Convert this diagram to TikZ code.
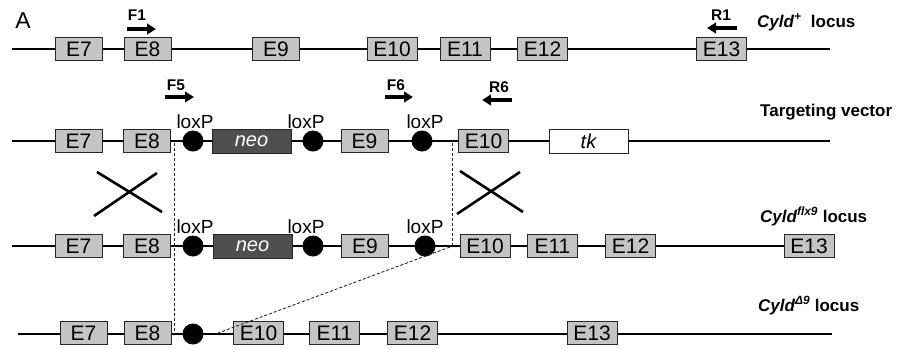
\documentclass[tikz,border=0pt]{standalone}
\usepackage{fontspec}
\setmainfont{Liberation Sans}
\usetikzlibrary{arrows.meta}
\definecolor{exonfill}{HTML}{C4C4C4}
\definecolor{neofill}{HTML}{4F4F4F}
\tikzset{
  backbone/.style={line width=2pt, black},
  exon/.style={draw=black!85, line width=0.8pt, fill=exonfill, minimum width=47pt, minimum height=23pt, inner sep=0pt, font=\fontsize{21}{21}\selectfont},
  wexon/.style={exon, minimum width=50pt},
  neobox/.style={draw=black!85, line width=0.8pt, fill=neofill, minimum width=79pt, minimum height=24pt, inner sep=0pt, text=white, font=\fontsize{20}{20}\selectfont\itshape},
  tkbox/.style={draw=black!85, line width=0.8pt, fill=white, minimum width=79pt, minimum height=24pt, inner sep=0pt, font=\fontsize{20}{20}\selectfont\itshape},
  lox/.style={circle, fill=black, minimum size=21pt, inner sep=0pt},
  loxlabel/.style={anchor=base, inner sep=0pt, font=\fontsize{19}{19}\selectfont},
  primer/.style={anchor=base, inner sep=0pt, font=\fontsize{15.5}{15.5}\selectfont\bfseries},
  parrow/.style={line width=3.2pt, -{Triangle[length=9pt,width=10.5pt]}},
  rowlabel/.style={anchor=base west, inner sep=0pt, font=\fontsize{17}{17}\selectfont\bfseries},
  cross/.style={line width=2.6pt, black},
  guide/.style={black!85, line width=0.9pt, dash pattern=on 3pt off 2pt},
}
\begin{document}
\begin{tikzpicture}[x=1pt,y=-1pt]
\useasboundingbox (0,0) rectangle (900,349);

\node[inner sep=0pt, anchor=base, font=\fontsize{23}{23}\selectfont] (lblA) at (23,28) {A};

% ---------- Row 1: Cyld+ locus ----------
\coordinate (r1s) at (12,49);
\coordinate (r1e) at (830,49);
\draw[backbone] (r1s) -- (r1e);
\node[exon] (a7) at (79,49) {E7};
\node[exon] (a8) at (147.5,49) {E8};
\node[exon] (a9) at (276,49) {E9};
\node[wexon] (a10) at (392,49) {E10};
\node[wexon] (a11) at (465,49) {E11};
\node[wexon] (a12) at (542.5,49) {E12};
\node[wexon] (a13) at (721.5,49) {E13};
\node[rowlabel] (lab1) at (757,27) {\itshape Cyld\textsuperscript{+}\upshape\ \ locus};

\node[primer] (pF1) at (137,20) {F1};
\coordinate (f1s) at (127,29); \coordinate (f1e) at (156,29);
\draw[parrow] (f1s) -- (f1e);
\node[primer] (pR1) at (721,20) {R1};
\coordinate (r1as) at (737,28); \coordinate (r1ae) at (707,28);
\draw[parrow] (r1as) -- (r1ae);

% ---------- Row 2: Targeting vector ----------
\coordinate (r2s) at (12,141);
\coordinate (r2e) at (830,141);
\draw[backbone] (r2s) -- (r2e);
\node[exon] (b7) at (78.5,141) {E7};
\node[exon] (b8) at (147,141) {E8};
\node[lox] (bl1) at (193,141) {};
\node[neobox] (bneo) at (251.5,141) {neo};
\node[lox] (bl2) at (313,141) {};
\node[exon] (b9) at (364.5,141) {E9};
\node[lox] (bl3) at (422,141) {};
\node[wexon] (b10) at (483.5,141) {E10};
\node[tkbox] (btk) at (588.5,141) {tk};
\node[loxlabel] (bll1) at (195,128) {loxP};
\node[loxlabel] (bll2) at (306,128) {loxP};
\node[loxlabel] (bll3) at (425,128) {loxP};
\node[rowlabel] (lab2) at (760,116) {Targeting vector};

\node[primer] (pF5) at (176,90) {F5};
\coordinate (f5s) at (165,97); \coordinate (f5e) at (194,97);
\draw[parrow] (f5s) -- (f5e);
\node[primer] (pF6) at (396,90) {F6};
\coordinate (f6s) at (385,97); \coordinate (f6e) at (413,97);
\draw[parrow] (f6s) -- (f6e);
\node[primer] (pR6) at (499,92) {R6};
\coordinate (r6s) at (512,100); \coordinate (r6e) at (482,100);
\draw[parrow] (r6s) -- (r6e);

% crosses
\coordinate (xa1) at (97,172); \coordinate (xa2) at (162,212);
\coordinate (xa3) at (157,173); \coordinate (xa4) at (94,216);
\draw[cross] (xa1) -- (xa2);
\draw[cross] (xa3) -- (xa4);
\coordinate (xb1) at (460,171); \coordinate (xb2) at (523,212);
\coordinate (xb3) at (520,172); \coordinate (xb4) at (457,214);
\draw[cross] (xb1) -- (xb2);
\draw[cross] (xb3) -- (xb4);

% ---------- Row 3: Cyld flx9 locus ----------
\coordinate (r3s) at (12,246);
\draw[backbone] (r3s) -- (809,246) coordinate (r3e);
\node[exon] (c7) at (78.5,246) {E7};
\node[exon] (c8) at (147,246) {E8};
\node[lox] (cl1) at (193,246) {};
\node[neobox] (cneo) at (252.5,246) {neo};
\node[lox] (cl2) at (313,246) {};
\node[exon] (c9) at (365,246) {E9};
\node[lox] (cl3) at (425,246) {};
\node[wexon] (c10) at (485,246) {E10};
\node[wexon] (c11) at (552.5,246) {E11};
\node[wexon] (c12) at (630.5,246) {E12};
\node[wexon] (c13) at (809,246) {E13};
\node[loxlabel] (cll1) at (195,233) {loxP};
\node[loxlabel] (cll2) at (306,233) {loxP};
\node[loxlabel] (cll3) at (425,233) {loxP};
\node[rowlabel] (lab3) at (760,222) {\itshape Cyld\textsuperscript{flx9}\upshape\ locus};

% ---------- Row 4: Cyld Delta9 locus ----------
\coordinate (r4s) at (18,334);
\coordinate (r4e) at (832,334);
\draw[backbone] (r4s) -- (r4e);
\node[exon] (d7) at (83.5,333) {E7};
\node[exon] (d8) at (147.5,333) {E8};
\node[lox] (dl1) at (193,334) {};
\node[wexon] (d10) at (258.5,333) {E10};
\node[wexon] (d11) at (334.5,333) {E11};
\node[wexon] (d12) at (412.5,333) {E12};
\node[wexon] (d13) at (592,333) {E13};
\node[rowlabel] (lab4) at (758,311) {\itshape Cyld\textsuperscript{Δ9}\upshape\ locus};

% ---------- dashed guides ----------
\coordinate (g1t) at (174,143); \coordinate (g1b) at (174,333);
\coordinate (g2t) at (452,143); \coordinate (g2b) at (452,247);
\coordinate (g3t) at (450,247); \coordinate (g3b) at (218,333);
\draw[guide] (g1t) -- (g1b);
\draw[guide] (g2t) -- (g2b);
\draw[guide] (g3t) -- (g3b);
\end{tikzpicture}
\end{document}
